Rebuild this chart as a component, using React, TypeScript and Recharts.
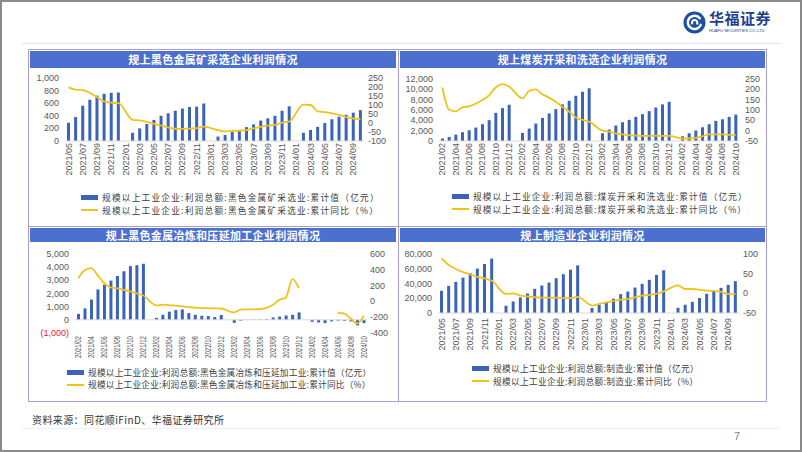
import React from "react";
import { ComposedChart, Bar, Line, XAxis, YAxis, ReferenceLine } from "recharts";

const NUM = "'Liberation Sans', Arial, sans-serif";
const CJK = "'Noto Sans CJK SC', sans-serif";
const BLUE = "#4b70d0";
const BAR = "#3a63b9";
const GOLD = "#f0c21c";
const EDGE = "#a99ed0";

// x categories
const monthsMay = [
  "2021/05", "2021/06", "2021/07", "2021/08", "2021/09", "2021/10", "2021/11", "2021/12",
  "2022/01", "2022/02", "2022/03", "2022/04", "2022/05", "2022/06", "2022/07", "2022/08", "2022/09", "2022/10", "2022/11", "2022/12",
  "2023/01", "2023/02", "2023/03", "2023/04", "2023/05", "2023/06", "2023/07", "2023/08", "2023/09", "2023/10", "2023/11", "2023/12",
  "2024/01", "2024/02", "2024/03", "2024/04", "2024/05", "2024/06", "2024/07", "2024/08", "2024/09", "2024/10",
];
const monthsFeb = [
  "2021/02", "2021/03", "2021/04", "2021/05", "2021/06", "2021/07", "2021/08", "2021/09", "2021/10", "2021/11", "2021/12",
  "2022/01", "2022/02", "2022/03", "2022/04", "2022/05", "2022/06", "2022/07", "2022/08", "2022/09", "2022/10", "2022/11", "2022/12",
  "2023/01", "2023/02", "2023/03", "2023/04", "2023/05", "2023/06", "2023/07", "2023/08", "2023/09", "2023/10", "2023/11", "2023/12",
  "2024/01", "2024/02", "2024/03", "2024/04", "2024/05", "2024/06", "2024/07", "2024/08", "2024/09", "2024/10",
];

// 黑色金属矿采选业
const mineProfit = [
  290, 380, 560, 655, 720, 750, 765, 770,
  null, 130, 200, 270, 335, 400, 440, 480, 515, 540, 545, 595,
  null, 70, 95, 145, 175, 220, 265, 325, 360, 400, 480, 550,
  null, 130, 175, 225, 285, 345, 385, 415, 450, 490,
];
const mineYoy = [
  198, 185, 183, 167, 143, 120, 113, 110,
  null, 18, 14, 6, -5, -14, -24, -32, -33, -31, -29, -20,
  null, -40, -47, -44, -42, -39, -30, -21, -15, -11, 2, 8,
  null, 102, 100, 64, 60, 54, 45, 33, 25, 22,
];

// 煤炭开采和洗选业
const coalProfit = [
  480, 790, 1240, 1700, 2080, 2600, 3250, 4030, 5450, 6360, 7020,
  null, 1560, 2400, 3380, 4480, 5330, 6170, 7080, 7780, 8750, 9530, 10200,
  null, 1500, 2220, 3000, 3640, 4090, 4670, 5190, 5780, 6490, 7080, 7590,
  null, 910, 1500, 2020, 2660, 3250, 3900, 4200, 4670, 5130,
];
const coalYoy = [
  209, 102, 93, 113, 118, 130, 148, 171, 209, 225, 214,
  null, 156, 192, 200, 176, 160, 140, 115, 93, 64, 52, 44,
  null, 0, -5, -13, -18, -22, -24, -25, -25, -24, -25, -25,
  null, -38, -38, -35, -28, -18, -18, -18, -20, -22,
];

// 黑色金属冶炼和压延加工业
const steelProfit = [
  450, 870, 1540, 2310, 2670, 2980, 3330, 3690, 4080, 4150, 4260,
  null, 150, 380, 620, 740, 790, 510, 380, 310, 280, 210, 365,
  null, -230, -60, 20, 30, 40, 60, 180, 250, 330, 380, 565,
  null, -150, -200, -250, -120, -60, -80, -120, -420, -250,
];
const steelYoy = [
  294, 395, 420, 330, 230, 176, 164, 147, 126, 101, 75,
  null, -50, -42, -46, -54, -63, -72, -80, -84, -86, -88, -90,
  null, -140, -105, -100, -100, -98, -83, -42, 20, 50, 282, 168,
  null, null, null, null, null, -146, -155, -218, -280, -180,
];

// 制造业
const mfgProfit = [
  30100, 36800, 42200, 48000, 54000, 60200, 66500, 73800,
  null, 9800, 15700, 21100, 26500, 32800, 37300, 41300, 47200, 52600, 58800, 64600,
  null, 6700, 11200, 13500, 19300, 25600, 29100, 34500, 39500, 44900, 51700, 58000,
  null, 7100, 11200, 15200, 20200, 26000, 30100, 34100, 38200, 43200,
];
const mfgYoy = [
  89, 72, 62, 54, 48, 42, 38, 32,
  null, -2, 0, -6, -8, -10, -11, -11, -11, -12, -12, -9,
  null, -31, -27, -23, -19, -16, -14, -10, -6, -4, -1, 5,
  null, 20, 11, 11, 9, 7, 6, 4, -2, -2,
];

const mineLeftTicks = [0, 200, 400, 600, 800, 1000];
const mineRightTicks = [-100, -50, 0, 50, 100, 150, 200, 250];
const coalLeftTicks = [0, 2000, 4000, 6000, 8000, 10000, 12000];
const coalRightTicks = [-50, 0, 50, 100, 150, 200, 250];
const steelLeftTicks = [-1000, 0, 1000, 2000, 3000, 4000, 5000];
const steelRightTicks = [-400, -200, 0, 200, 400, 600];
const mfgLeftTicks = [0, 20000, 40000, 60000, 80000];
const mfgRightTicks = [-50, 0, 50, 100];

const rows = (months: string[], v: any[], r: any[], split = false) =>
  months.map((m, i) => ({
    m,
    v: v[i],
    r: split && m >= "2024" ? null : r[i],
    r2: split && m >= "2024" ? r[i] : null,
  }));

const fmt = (v: number) => v.toLocaleString("en-US");

const RotTick = (props: any) => {
  const { x, y, payload, len } = props;
  const extra = len ? { textLength: len, lengthAdjust: "spacingAndGlyphs" } : {};
  return (
    <text x={x} y={y} transform={`rotate(-90 ${x} ${y})`} textAnchor="end" dominantBaseline="central"
      fontSize={9} fill="#595959" fontFamily={NUM} {...extra}>
      {payload.value}
    </text>
  );
};

const LeftTick = (props: any) => {
  const { x, y, payload } = props;
  const v = payload.value as number;
  return (
    <text x={x} y={y} textAnchor="end" dominantBaseline="central" fontSize={9}
      fill={v < 0 ? "#e0201c" : "#595959"} fontFamily={NUM}>
      {v < 0 ? `(${fmt(-v)})` : fmt(v)}
    </text>
  );
};

const RightTick = (props: any) => {
  const { x, y, payload } = props;
  return (
    <text x={x} y={y} textAnchor="start" dominantBaseline="central" fontSize={9} fill="#595959" fontFamily={NUM}>
      {payload.value}
    </text>
  );
};

function Key({ x, y1, y2, name, ls }: any) {
  const row = (cy: number, icon: React.ReactNode, text: string) => (
    <div style={{ position: "absolute", left: x, top: cy - 7, height: 14, display: "flex", alignItems: "center",
      whiteSpace: "nowrap", fontFamily: CJK, fontSize: 8.7, letterSpacing: ls, color: "#404040" }}>
      {icon}
      <span style={{ marginLeft: 4 }}>{text}</span>
    </div>
  );
  return (
    <>
      {row(y1, <div style={{ width: 17, height: 5, background: BAR }} />, `规模以上工业企业:利润总额:${name}:累计值（亿元）`)}
      {row(y2, <div style={{ width: 17, height: 2, background: GOLD }} />, `规模以上工业企业:利润总额:${name}:累计同比（%）`)}
    </>
  );
}

function Panel(p: any) {
  return (
    <>
      <div style={{ position: "absolute", left: p.x + 2, top: p.titleTop, width: p.w - 4, height: p.titleH,
        background: BLUE, color: "#fff", fontFamily: CJK, fontWeight: 700, fontSize: 11,
        lineHeight: `${p.titleH}px`, textAlign: "center", letterSpacing: 0.3 }}>
        {p.title}
      </div>
      <div style={{ position: "absolute", left: p.x, top: p.chartTop }}>
        <ComposedChart width={p.w} height={p.chartH} data={p.data} margin={{ top: p.mt, right: 0, bottom: 0, left: 0 }}>
          <XAxis dataKey="m" interval={1} height={p.xH} tickLine={false} axisLine={false} tickSize={0}
            tickMargin={p.xm} tick={<RotTick len={p.squish} />} />
          <YAxis yAxisId="l" width={p.lw} domain={p.ld} ticks={p.lt} interval={0} tickLine={false}
            axisLine={false} tickSize={0} tickMargin={6} tick={<LeftTick />} />
          <YAxis yAxisId="r" orientation="right" width={p.rw} domain={p.rd} ticks={p.rt} interval={0}
            tickLine={false} axisLine={false} tickSize={0} tickMargin={p.rm} tick={<RightTick />} />
          <ReferenceLine yAxisId="l" y={0} stroke="#d9d9d9" strokeWidth={1} />
          <Bar yAxisId="l" dataKey="v" fill={BAR} barSize={3} isAnimationActive={false} />
          <Line yAxisId="r" dataKey="r" type="monotone" stroke={GOLD} strokeWidth={1.8} dot={false}
            connectNulls isAnimationActive={false} />
          {p.split && (
            <Line yAxisId="r" dataKey="r2" type="monotone" stroke={GOLD} strokeWidth={1.8} dot={false}
              connectNulls isAnimationActive={false} />
          )}
        </ComposedChart>
      </div>
      <Key x={p.kx} y1={p.ky1} y2={p.ky2} name={p.name} ls={p.ls} />
    </>
  );
}

export default function App() {
  return (
    <div style={{ position: "absolute", left: 0, top: 0, width: 802, height: 452, background: "#fff", overflow: "hidden" }}>
      <div style={{ position: "absolute", left: 0, top: 0, width: 802, height: 452, boxSizing: "border-box", border: "2px solid #8a8a8a" }} />

      {/* header logo */}
      <svg style={{ position: "absolute", left: 683, top: 11 }} width={23} height={23} viewBox="0 0 24 24">
        <circle cx={12} cy={12} r={11.5} fill="#1f4fa0" />
        <path d="M17.5 7.5 A7 7 0 1 0 18.5 14.5" stroke="#fff" strokeWidth={2.6} fill="none" strokeLinecap="round" />
        <path d="M9.5 13 A2.8 2.8 0 1 1 14.8 13.2" stroke="#fff" strokeWidth={2.2} fill="none" strokeLinecap="round" />
      </svg>
      <div style={{ position: "absolute", left: 709, top: 9, fontFamily: CJK, fontWeight: 700, fontSize: 15, color: "#1d3f8e", letterSpacing: 0.5, lineHeight: "18px" }}>
        华福证券
      </div>
      <div style={{ position: "absolute", left: 709, top: 28, fontFamily: NUM, fontSize: 4, color: "#1d3f8e", whiteSpace: "nowrap" }}>
        HUAFU SECURITIES CO.,LTD.
      </div>
      <div style={{ position: "absolute", left: 22, top: 43, width: 758, height: 1, background: "#e3e3e3" }} />

      {/* table frame */}
      <div style={{ position: "absolute", left: 28, top: 49, width: 739, height: 353, boxSizing: "border-box", border: `1.5px solid ${EDGE}` }} />
      <div style={{ position: "absolute", left: 397.5, top: 49, width: 1.5, height: 353, background: EDGE }} />
      <div style={{ position: "absolute", left: 28, top: 225.5, width: 739, height: 1.5, background: EDGE }} />

      <Panel x={28} w={370} titleTop={51} titleH={17} title="规上黑色金属矿采选企业利润情况"
        chartTop={70} chartH={120} mt={8} xH={49} xm={2} lw={37} rw={34} rm={4}
        data={rows(monthsMay, mineProfit, mineYoy)} ld={[0, 1000]} lt={mineLeftTicks} rd={[-100, 250]} rt={mineRightTicks}
        kx={81} ky1={197} ky2={210} ls={1.2} name="黑色金属矿采选业" />

      <Panel x={398} w={369} titleTop={51} titleH={17} title="规上煤炭开采和洗选企业利润情况"
        chartTop={70} chartH={120} mt={9} xH={49} xm={2} lw={41} rw={28} rm={6}
        data={rows(monthsFeb, coalProfit, coalYoy)} ld={[0, 12000]} lt={coalLeftTicks} rd={[-50, 250]} rt={coalRightTicks}
        kx={452} ky1={196} ky2={209} ls={1.1} name="煤炭开采和洗选业" />

      <Panel x={28} w={370} titleTop={228} titleH={14} title="规上黑色金属冶炼和压延加工企业利润情况"
        chartTop={243} chartH={118} mt={11} xH={28} xm={3} squish={22} lw={47} rw={31} rm={3} split
        data={rows(monthsFeb, steelProfit, steelYoy, true)} ld={[-1000, 5000]} lt={steelLeftTicks} rd={[-400, 600]} rt={steelRightTicks}
        kx={67} ky1={372} ky2={384.5} ls={0.2} name="黑色金属冶炼和压延加工业" />

      <Panel x={398} w={369} titleTop={228} titleH={14} title="规上制造业企业利润情况"
        chartTop={243} chartH={120} mt={11} xH={50} xm={5} lw={40} rw={28} rm={4}
        data={rows(monthsMay, mfgProfit, mfgYoy)} ld={[0, 80000]} lt={mfgLeftTicks} rd={[-50, 100]} rt={mfgRightTicks}
        kx={472} ky1={368} ky2={381} ls={0.3} name="制造业" />

      <div style={{ position: "absolute", left: 32, top: 412, fontFamily: CJK, fontSize: 10, letterSpacing: 0.4, color: "#333", whiteSpace: "nowrap" }}>
        资料来源：同花顺iFinD、华福证券研究所
      </div>
      <div style={{ position: "absolute", left: 22, top: 428, width: 758, height: 1, background: "#efefef" }} />
      <div style={{ position: "absolute", left: 734, top: 430, fontFamily: NUM, fontSize: 11, color: "#7f7f7f" }}>7</div>
    </div>
  );
}
